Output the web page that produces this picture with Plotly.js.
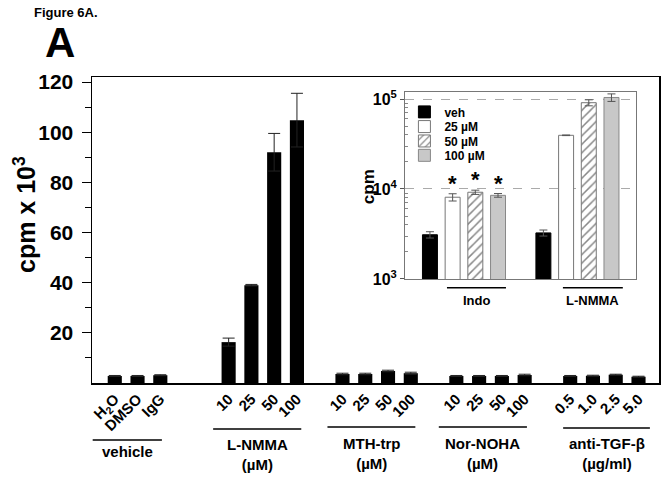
<!DOCTYPE html>
<html><head><meta charset="utf-8">
<script src="https://cdn.plot.ly/plotly-3.0.1.min.js"></script>
<style>html,body{margin:0;padding:0;background:#fff}#chart{width:665px;height:478px}</style>
</head><body><div id="chart"></div>
<script>
// ---------- main chart data (cpm x 10^3) ----------
const mainLabels = ['H<sub>2</sub>O','DMSO','IgG','10','25','50','100','10','25','50','100','10','25','50','100','0.5','1.0','2.5','5.0'];
const mainPositions = [0,1,2,5,6,7,8,10,11,12,13,15,16,17,18,20,21,22,23];
const mainValues = [2.8,2.8,3.1,16.3,39.0,92.0,104.8,3.6,3.6,4.8,3.9,2.8,2.8,2.8,3.2,2.8,2.9,3.3,2.5];
const mainErrors = [0.2,0.2,0.2,1.6,0.3,7.5,10.7,0.3,0.3,0.3,0.4,0.2,0.2,0.2,0.3,0.2,0.2,0.2,0.2];
const groupNames = ['vehicle','L-NMMA<br>(µM)','MTH-trp<br>(µM)','Nor-NOHA<br>(µM)','anti-TGF-β<br>(µg/ml)'];

// ---------- inset data (cpm) ----------
const insetGroups = ['Indo','L-NMMA'];
const insetSeries = ['veh','25 µM','50 µM','100 µM'];
const vehValues = [3100,3250];
const vehErrors = [250,250];
const c25Values = [8100,39500];
const c25Errors = [750,300];
const c50Values = [9200,91000];
const c50Errors = [500,7000];
const c100Values = [8500,104000];
const c100Errors = [400,10000];
const significant = [[false,true,true,true],[false,false,false,false]];

// ---------- styling ----------
const FONT = 'Liberation Sans, Arial, Helvetica, sans-serif';
const insetStyles = [
  {color:'#000000', line:'#000000', pattern:null},
  {color:'#ffffff', line:'#777777', pattern:null},
  {color:'#ffffff', line:'#777777', pattern:{shape:'/', fgcolor:'#888888', bgcolor:'#ffffff', size:6, solidity:0.25}},
  {color:'#c8c8c8', line:'#888888', pattern:null}
];
const insetValueSets = [vehValues,c25Values,c50Values,c100Values];
const insetErrorSets = [vehErrors,c25Errors,c50Errors,c100Errors];
const legendIds = ['legend','legend2','legend3','legend4'];
const legendCenters = [0.886, 0.838, 0.791, 0.744];

const traces = [];
traces.push({
  type:'bar', x:mainPositions, y:mainValues, width:0.62,
  marker:{color:'#000000', line:{width:0}},
  error_y:{type:'data', array:mainErrors, visible:true, color:'#222222', thickness:1, width:6},
  showlegend:false, xaxis:'x', yaxis:'y', hoverinfo:'skip'
});
insetSeries.forEach((name,s)=>{
  const st = insetStyles[s];
  const marker = {color:st.color, line:{color:st.line, width:1}};
  if (st.pattern) marker.pattern = st.pattern;
  traces.push({
    type:'bar', name:name, legend:legendIds[s],
    x:insetGroups.map((g,gi)=>gi*5+s),
    y:insetValueSets[s], width:0.66,
    marker:marker,
    error_y:{type:'data', array:insetErrorSets[s], visible:true, color:'#555555', thickness:1, width:4},
    xaxis:'x2', yaxis:'y2', hoverinfo:'skip'
  });
});

// ---------- decorations ----------
const shapes = [];
const annotations = [];
const lineStart = [-0.97, 4.32, 9.34, 14.23, 19.69];
const lineEnd = [2.07, 8.19, 13.2, 18.1, 23.5];
const lineY = [-0.186, -0.150, -0.144, -0.144, -0.147];
const labelY = [-0.225, -0.235, -0.232, -0.232, -0.232];
groupNames.forEach((g,i)=>{
  shapes.push({type:'line', xref:'x', yref:'paper', x0:lineStart[i], x1:lineEnd[i], y0:lineY[i], y1:lineY[i], line:{color:'#000', width:1.5}});
  annotations.push({xref:'x', yref:'paper', x:(lineStart[i]+lineEnd[i])/2, y:labelY[i], text:g, showarrow:false,
    xanchor:'center', yanchor:'middle', font:{family:FONT, size:15, weight:'bold', color:'#000'}});
});
// inset group lines & labels
const insetLineStart = [0.75, 5.86];
const insetLineEnd = [3.35, 8.5];
insetGroups.forEach((g,i)=>{
  shapes.push({type:'line', xref:'x2', yref:'paper', x0:insetLineStart[i], x1:insetLineEnd[i], y0:0.311, y1:0.311, line:{color:'#000', width:1.5}});
  annotations.push({xref:'x2', yref:'paper', x:(insetLineStart[i]+insetLineEnd[i])/2, y:0.270, text:g, showarrow:false,
    xanchor:'center', yanchor:'middle', font:{family:FONT, size:13, weight:'bold', color:'#000'}});
});
// asterisks
significant.forEach((row,gi)=>row.forEach((sig,s)=>{
  if (!sig) return;
  const v = insetValueSets[s][gi] + insetErrorSets[s][gi];
  annotations.push({xref:'x2', yref:'y2', x:gi*5+s, y:Math.log10(v), text:'*', showarrow:false,
    xanchor:'center', yanchor:'bottom', yshift:-4, font:{family:FONT, size:22, weight:'bold', color:'#000'}});
}));
// figure labels
annotations.push({xref:'paper', yref:'paper', x:-0.106, y:1.212, text:'Figure 6A.', showarrow:false, xanchor:'left', yanchor:'middle',
  font:{family:FONT, size:13, weight:'bold', color:'#000'}});
annotations.push({xref:'paper', yref:'paper', x:-0.057, y:1.113, text:'A', showarrow:false, xanchor:'center', yanchor:'middle',
  font:{family:FONT, size:42, weight:'bold', color:'#000'}});
// main y title
annotations.push({xref:'paper', yref:'paper', x:(25-92)/567, y:0.549, text:'cpm x 10<sup>3</sup>', showarrow:false, textangle:-90,
  xanchor:'center', yanchor:'middle', font:{family:FONT, size:25, weight:'bold', color:'#000'}});
// inset y title
annotations.push({xref:'paper', yref:'paper', x:(368-92)/567, y:0.640, text:'cpm', showarrow:false, textangle:-90, xanchor:'center', yanchor:'middle',
  font:{family:FONT, size:17, weight:'bold', color:'#000'}});

const legendBase = {x:0.551, xanchor:'left', yanchor:'middle', bgcolor:'rgba(0,0,0,0)', borderwidth:0,
  font:{family:FONT, size:12, weight:'bold', color:'#000'}, tracegroupgap:0, itemclick:false};

const layout = {
  width:665, height:478,
  margin:{l:92, r:6, t:77, b:95},
  paper_bgcolor:'#fff', plot_bgcolor:'rgba(0,0,0,0)',
  font:{family:FONT, color:'#000'},
  barmode:'overlay',
  showlegend:true,
  xaxis:{domain:[0,1], range:[-1,23.9], tickmode:'array', tickvals:mainPositions, ticktext:mainLabels,
    tickangle:-45, ticks:'', showgrid:false, zeroline:false, showline:true, linecolor:'#000', linewidth:1.5, mirror:true,
    tickfont:{family:FONT, size:15, weight:'bold', color:'#000'}, fixedrange:true},
  yaxis:{domain:[0,1], range:[0,122], tickmode:'array', tickvals:[20,40,60,80,100,120],
    ticks:'outside', ticklen:9, tickwidth:1, tickcolor:'#000', showgrid:false, zeroline:false,
    showline:true, linecolor:'#000', linewidth:1.5, mirror:true, ticklabelstandoff:4,
    minor:{tickvals:[10,30,50,70,90,110], ticks:'outside', ticklen:6, tickcolor:'#000', tickwidth:1},
    tickfont:{family:FONT, size:21, weight:'bold', color:'#000'}, fixedrange:true},
  xaxis2:{domain:[0.552,0.959], anchor:'y2', range:[-1.1,9.07], showticklabels:false, ticks:'', showgrid:false, zeroline:false,
    showline:true, linecolor:'#777', linewidth:1, mirror:true, fixedrange:true},
  yaxis2:{domain:[0.340,0.951], anchor:'x2', type:'log', range:[3,5.078], tickmode:'array',
    tickvals:[1000,10000,100000], ticktext:['10<sup>3</sup>','10<sup>4</sup>','10<sup>5</sup>'],
    ticks:'outside', ticklen:4, tickcolor:'#555', showline:true, linecolor:'#777', linewidth:1, mirror:true,
    showgrid:true, gridcolor:'#aaaaaa', griddash:'dash', gridwidth:1, zeroline:false,
    minor:{tickvals:[2000,3000,4000,5000,6000,7000,8000,9000,20000,30000,40000,50000,60000,70000,80000,90000], ticks:'inside', ticklen:3, tickcolor:'#888', showgrid:false},
    tickfont:{family:FONT, size:16, weight:'bold', color:'#000'}, fixedrange:true},
  shapes:shapes,
  annotations:annotations
};
legendIds.forEach((id,i)=>{ layout[id] = Object.assign({}, legendBase, {y:legendCenters[i]}); });
Plotly.newPlot('chart', traces, layout, {displayModeBar:false, staticPlot:true});
</script>
</body></html>
